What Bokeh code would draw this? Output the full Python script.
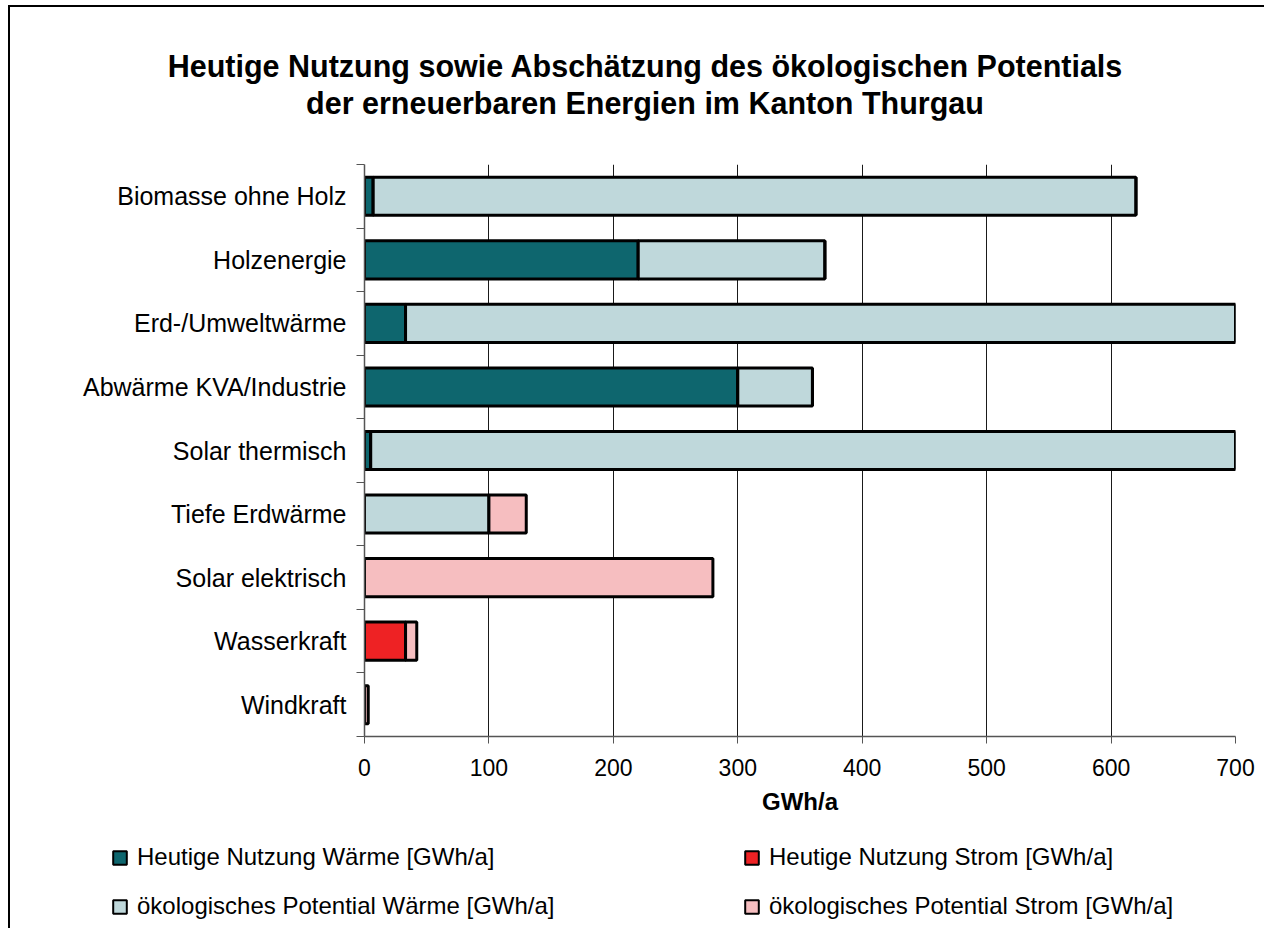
from bokeh.plotting import figure
from bokeh.models import Range1d, FixedTicker, Legend, LegendItem, ColumnDataSource, Div
from bokeh.layouts import column
from bokeh.embed import file_html
from bokeh.resources import INLINE

# ---- data -------------------------------------------------------------
categories = ["Biomasse ohne Holz", "Holzenergie", "Erd-/Umweltwärme",
              "Abwärme KVA/Industrie", "Solar thermisch", "Tiefe Erdwärme",
              "Solar elektrisch", "Wasserkraft", "Windkraft"]
heute_waerme = [7, 220, 33, 300, 5, 0, 0, 0, 0]
heute_strom = [0, 0, 0, 0, 0, 0, 0, 33, 0]
pot_waerme = [613, 150, 667, 60, 695, 100, 0, 0, 0]
pot_strom = [0, 0, 0, 0, 0, 30, 280, 9, 3]

series_keys = ["hw", "hs", "pw", "ps"]
series_labels = ["Heutige Nutzung Wärme [GWh/a]", "Heutige Nutzung Strom [GWh/a]",
                 "ökologisches Potential Wärme [GWh/a]", "ökologisches Potential Strom [GWh/a]"]
series_colors = ["#0E666E", "#EE2224", "#BFD8DB", "#F6BEC0"]
legend_order = [0, 2, 1, 3]   # legend fills column by column
x_ticks = [0, 100, 200, 300, 400, 500, 600, 700]
title_lines = ["Heutige Nutzung sowie Abschätzung des ökologischen Potentials",
               "der erneuerbaren Energien im Kanton Thurgau"]
x_label = "GWh/a"

FONT = "Liberation Sans"
W = 1254
n = len(categories)
ypos = [n - i - 0.5 for i in range(n)]

src = ColumnDataSource(dict(y=ypos, cat=categories, hw=heute_waerme, hs=heute_strom,
                            pw=pot_waerme, ps=pot_strom))

# ---- title -------------------------------------------------------------
title_div = Div(
    text=('<div style="position:absolute; left:3px; top:36px; text-align:center; '
          'font-family:\'Liberation Sans\', Arial, sans-serif; font-size:30.5px; font-weight:bold; '
          'line-height:37px; color:black; width:%dpx;">%s<br>%s</div>'
          % (W, title_lines[0], title_lines[1])),
    width=W, height=103, styles={"overflow": "visible"})

# ---- main chart --------------------------------------------------------
p = figure(width=W, height=708, x_range=Range1d(0, 700), y_range=Range1d(0, n),
           output_backend="svg", toolbar_location=None,
           min_border_left=354, min_border_top=44, min_border_right=29, min_border_bottom=92)
p.frame_align = False
p.outline_line_color = None
p.background_fill_color = "white"
p.border_fill_color = "white"

rs = p.hbar_stack(series_keys, y="y", height=0.6, source=src,
                  fill_color=series_colors, line_color="black", line_width=3)

p.xaxis.ticker = FixedTicker(ticks=x_ticks)
p.xaxis.major_tick_out = 7
p.xaxis.major_tick_in = 0
p.xaxis.minor_tick_out = 0
p.xaxis.minor_tick_in = 0
p.xaxis.axis_line_color = "#555555"
p.xaxis.axis_line_width = 1.5
p.xaxis.major_tick_line_color = "#555555"
p.xaxis.major_label_text_font = FONT
p.xaxis.major_label_text_font_size = "23px"
p.xaxis.major_label_text_color = "black"
p.xaxis.major_label_standoff = 15
p.xaxis.axis_label = x_label
p.xaxis.axis_label_text_font = FONT
p.xaxis.axis_label_text_font_size = "24px"
p.xaxis.axis_label_text_font_style = "bold"
p.xaxis.axis_label_text_color = "black"
p.xaxis.axis_label_standoff = 9

p.yaxis.ticker = FixedTicker(ticks=ypos, minor_ticks=list(range(n + 1)))
p.yaxis.major_label_overrides = {float(y): c for y, c in zip(ypos, categories)}
p.yaxis.major_tick_out = 0
p.yaxis.major_tick_in = 0
p.yaxis.minor_tick_out = 8
p.yaxis.minor_tick_in = 0
p.yaxis.minor_tick_line_color = "#555555"
p.yaxis.axis_line_color = "#555555"
p.yaxis.axis_line_width = 1.5
p.yaxis.major_label_text_font = FONT
p.yaxis.major_label_text_font_size = "25px"
p.yaxis.major_label_text_color = "black"
p.yaxis.major_label_standoff = 10

p.xgrid.grid_line_color = "#1a1a1a"
p.xgrid.grid_line_width = 1
p.ygrid.grid_line_color = None

# ---- legend strip (hidden one-row proxies carry the series styles) -----
pl = figure(width=W, height=100, x_range=Range1d(0, 1), y_range=Range1d(0, 1),
            x_axis_type=None, y_axis_type=None, output_backend="svg",
            toolbar_location=None, min_border=0)
pl.frame_align = False
pl.outline_line_color = None
pl.grid.visible = False
proxies = []
for c in series_colors:
    r = pl.hbar(y=[0], right=[0], height=0, fill_color=c, line_color="black", line_width=2)
    r.visible = False
    proxies.append(r)
legend = Legend(items=[LegendItem(label=series_labels[i], renderers=[proxies[i]]) for i in legend_order],
                location=(101, 8), ncols=2, glyph_width=17, glyph_height=17,
                label_standoff=9, label_width=585, label_height=28, spacing=21,
                padding=0, margin=0,
                label_text_font=FONT, label_text_font_size="24px", label_text_color="black",
                border_line_color=None, background_fill_alpha=0)
pl.add_layout(legend)

layout = column(title_div, p, pl, spacing=0)
layout.styles = {"margin-left": "8px", "margin-top": "5px",
                 "border-left": "2px solid black", "border-top": "2px solid black"}

open("out.html", "w").write(file_html(layout, INLINE))
